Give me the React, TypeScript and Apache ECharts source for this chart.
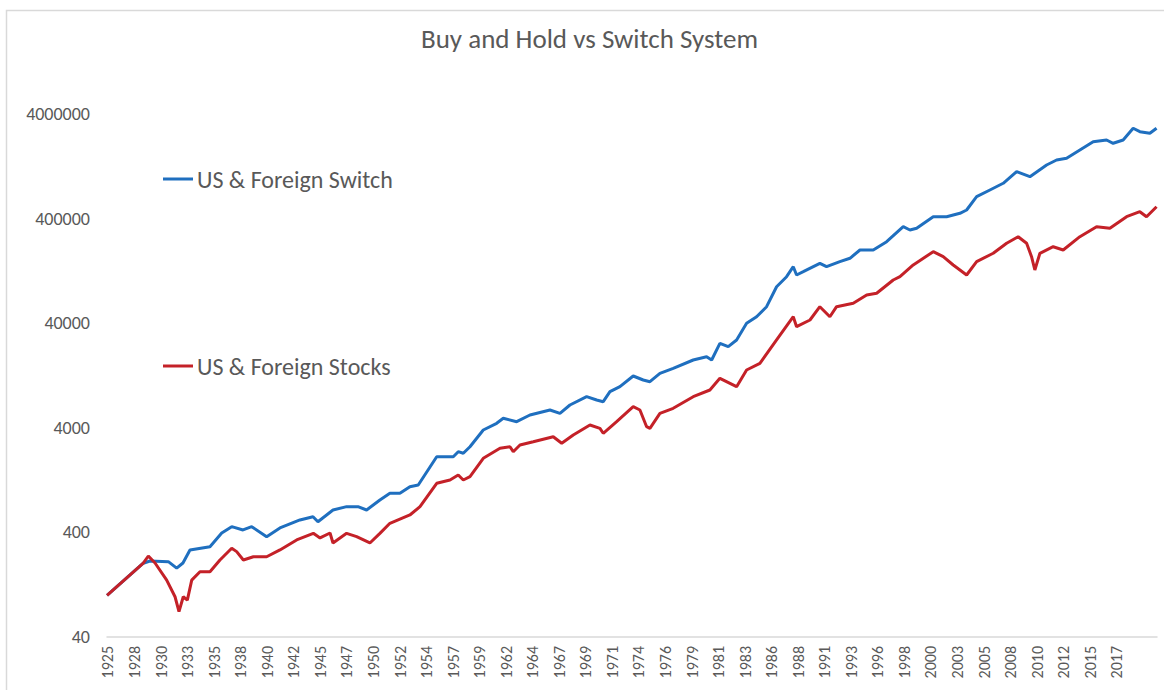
import React, { useEffect, useRef } from 'react';
import * as echarts from 'echarts';

const TITLE = 'Buy and Hold vs Switch System';
const SERIES_NAMES = ['US & Foreign Switch', 'US & Foreign Stocks'];
const Y_TICKS = [40, 400, 4000, 40000, 400000, 4000000];
const X_LABELS = [
  1925, 1928, 1930, 1933, 1935, 1938, 1940, 1942, 1945, 1947, 1950, 1952, 1954,
  1957, 1959, 1962, 1964, 1967, 1969, 1971, 1974, 1976, 1979, 1981, 1983, 1986,
  1988, 1991, 1993, 1996, 1998, 2000, 2003, 2005, 2008, 2010, 2012, 2015, 2017,
];
const X_LABEL_START = 1926.008;
const X_LABEL_STEP = 29 / 12;
const X_MIN = 1925.917;
const X_MAX = 2021.5;

const SWITCH_YEARS = [
  1925.92, 1929.22, 1929.83, 1931.5, 1932.26, 1932.83, 1933.47, 1935.29, 1936.36,
  1937.27, 1938.3, 1939.09, 1940.45, 1941.66, 1943.48, 1944.67, 1945.12, 1946.49,
  1947.73, 1948.76, 1949.55, 1950.76, 1951.67, 1952.58, 1953.49, 1954.25, 1955.93,
  1957.44, 1957.89, 1958.35, 1958.96, 1960.17, 1961.39, 1961.99, 1963.21, 1964.42,
  1966.24, 1967.15, 1968.06, 1969.58, 1970.49, 1971.09, 1971.7, 1972.61, 1973.82,
  1974.73, 1975.34, 1976.25, 1977.46, 1979.28, 1980.5, 1980.96, 1981.71, 1982.47,
  1983.23, 1984.14, 1985.05, 1985.96, 1986.87, 1987.78, 1988.39, 1988.69, 1989.3,
  1990.81, 1991.42, 1992.63, 1993.55, 1994.46, 1995.67, 1996.89, 1998.4, 1999.01,
  1999.62, 2001.13, 2002.35, 2003.56, 2004.17, 2005.08, 2006.29, 2007.5, 2008.72,
  2009.93, 2011.45, 2012.36, 2013.27, 2014.48, 2015.69, 2016.91, 2017.51, 2018.42,
  2019.33, 2019.94, 2020.85, 2021.46,
];
const SWITCH_VALUES = [
  100, 203, 213, 210, 182, 204, 272, 292, 395,
  454, 422, 454, 364, 441, 526, 565, 506, 655,
  705, 705, 655, 816, 946, 946, 1094, 1136, 2117,
  2117, 2364, 2282, 2638, 3811, 4416, 4932, 4575, 5304,
  5920, 5503, 6609, 7933, 7376, 7104, 8857, 9888, 12512,
  11456, 11036, 13277, 14827, 17792, 19131, 17792, 25695, 23848,
  27636, 39908, 46140, 57520, 89320, 111320, 138760, 115560, 124280,
  149560, 138760, 154920, 166960, 200400, 200400, 240560, 334640, 311200,
  323200, 417120, 417120, 449520, 483400, 647840, 750840, 870320, 1123360,
  1006120, 1301760, 1452960, 1508440, 1810640, 2174040, 2256800, 2099200, 2256800,
  2921200, 2709200, 2615600, 2921200,
];

const STOCKS_YEARS = [
  1925.92, 1929.22, 1929.68, 1930.29, 1931.35, 1932.11, 1932.47, 1932.86, 1933.23,
  1933.63, 1934.38, 1935.29, 1936.2, 1937.27, 1937.72, 1938.33, 1939.24, 1940.45,
  1941.66, 1943.18, 1944.7, 1945.31, 1946.22, 1946.49, 1947.73, 1948.64, 1949.85,
  1950.76, 1951.67, 1953.49, 1954.41, 1955.93, 1957.14, 1957.89, 1958.35, 1958.96,
  1960.17, 1961.69, 1962.6, 1962.9, 1963.51, 1964.72, 1966.54, 1967.31, 1968.36,
  1969.88, 1970.79, 1971.09, 1972.31, 1973.82, 1974.43, 1975.04, 1975.34, 1976.25,
  1977.46, 1979.28, 1980.8, 1981.71, 1983.23, 1984.14, 1985.35, 1986.87, 1988.39,
  1988.69, 1989.91, 1990.81, 1991.72, 1992.33, 1993.85, 1995.07, 1995.98, 1997.49,
  1998.1, 1999.31, 2001.13, 2002.04, 2002.95, 2004.17, 2005.08, 2006.59, 2007.81,
  2008.86, 2009.63, 2010.08, 2010.38, 2010.84, 2012.05, 2012.96, 2014.48, 2016.0,
  2017.21, 2018.73, 2019.94, 2020.55, 2021.46,
];
const STOCKS_VALUES = [
  100, 203, 238, 204, 140, 97, 70, 97, 90,
  140, 168, 168, 218, 282, 262, 218, 234, 234,
  272, 339, 392, 354, 395, 317, 392, 364, 317,
  392, 489, 587, 705, 1179, 1268, 1416, 1268, 1363,
  2044, 2547, 2638, 2364, 2739, 2945, 3288, 2844, 3414,
  4256, 3956, 3544, 4575, 6365, 5920, 4097, 3956, 5503,
  6144, 7933, 9192, 11892, 9888, 14281, 16544, 27636, 46140,
  37032, 42920, 57520, 46140, 57520, 62000, 74400, 77280, 103520,
  111320, 144040, 193080, 172960, 144040, 115560, 154920, 186400, 232240,
  268560, 232240, 172960, 129040, 186400, 215440, 200400, 268560, 334640,
  323200, 417120, 465640, 417120, 519800,
];

const BLUE = '#1f6fbf';
const RED = '#c42128';
const TEXT = '#595959';
const FONT = 'Calibri, Carlito, Lato, sans-serif';

export default function App() {
  const ref = useRef<HTMLDivElement>(null);
  useEffect(() => {
    if (!ref.current) return;
    const chart = echarts.init(ref.current, null, { renderer: 'svg' });
    const xPositions = X_LABELS.map((_, i) => X_LABEL_START + i * X_LABEL_STEP);
    const legendBase = {
      left: 163,
      icon: 'rect',
      itemWidth: 30,
      itemHeight: 3,
      itemGap: 4,
      padding: 0,
      textStyle: { fontSize: 24, color: TEXT, fontFamily: FONT, padding: [0, 0, 0, -1] },
    };
    chart.setOption({
      animation: false,
      backgroundColor: '#ffffff',
      title: {
        text: TITLE,
        left: 421,
        top: 25,
        padding: 0,
        textStyle: { fontSize: 27, fontWeight: 'normal', color: TEXT, fontFamily: FONT },
      },
      graphic: [
        {
          type: 'rect',
          silent: true,
          z: -10,
          shape: { x: 6.5, y: 10.5, width: 1200, height: 720 },
          style: { fill: 'none', stroke: '#d9d9d9', lineWidth: 1.5 },
        },
      ],
      legend: [
        { ...legendBase, top: 167, data: [SERIES_NAMES[0]] },
        { ...legendBase, top: 354, data: [SERIES_NAMES[1]] },
      ],
      grid: { left: 107, right: 7, top: 114, bottom: 53, outerBoundsMode: 'none' },
      xAxis: {
        type: 'value',
        min: X_MIN,
        max: X_MAX,
        axisLine: { show: true, lineStyle: { color: '#d9d9d9', width: 1.5 } },
        axisTick: { show: false },
        splitLine: { show: false },
        axisLabel: {
          customValues: xPositions,
          rotate: 90,
          margin: 9,
          fontSize: 16,
          color: TEXT,
          fontFamily: FONT,
          formatter: (v: number) => {
            const k = Math.round((v - X_LABEL_START) / X_LABEL_STEP);
            return X_LABELS[k] !== undefined ? String(X_LABELS[k]) : '';
          },
        },
      },
      yAxis: {
        type: 'log',
        logBase: 10,
        min: 40,
        max: 4000000,
        axisLine: { show: false },
        axisTick: { show: false },
        splitLine: { show: false },
        axisLabel: {
          customValues: Y_TICKS,
          margin: 17,
          fontSize: 18,
          color: TEXT,
          fontFamily: FONT,
          formatter: (v: number) => String(Math.round(v)),
        },
      },
      series: [
        {
          name: SERIES_NAMES[0],
          type: 'line',
          showSymbol: false,
          symbol: 'none',
          data: SWITCH_YEARS.map((y, i) => [y, SWITCH_VALUES[i]]),
          lineStyle: { color: BLUE, width: 3 },
          itemStyle: { color: BLUE },
        },
        {
          name: SERIES_NAMES[1],
          type: 'line',
          showSymbol: false,
          symbol: 'none',
          data: STOCKS_YEARS.map((y, i) => [y, STOCKS_VALUES[i]]),
          lineStyle: { color: RED, width: 3 },
          itemStyle: { color: RED },
        },
      ],
    });
    return () => chart.dispose();
  }, []);
  return (
    <div
      ref={ref}
      style={{ position: 'fixed', left: 0, top: 0, width: 1164, height: 690, background: '#fff' }}
    />
  );
}
